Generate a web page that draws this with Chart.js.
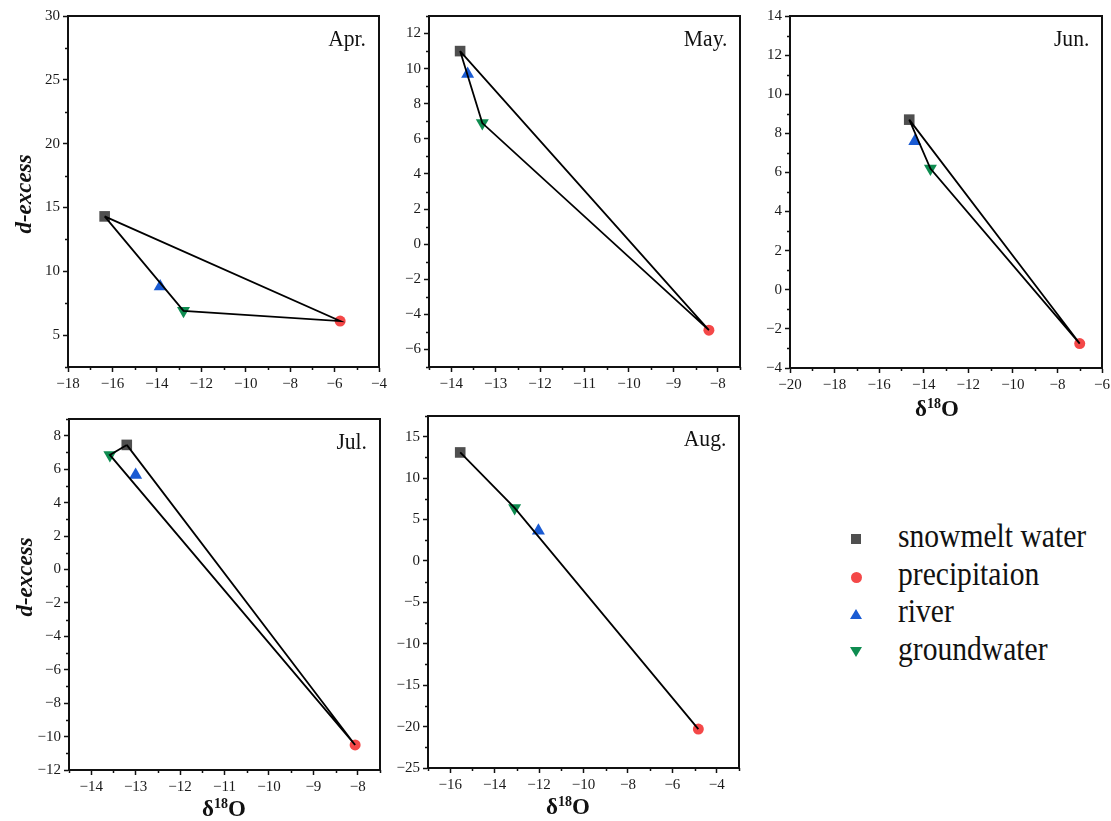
<!DOCTYPE html>
<html>
<head>
<meta charset="utf-8">
<script src="https://cdn.jsdelivr.net/npm/chart.js@4.4.1/dist/chart.umd.min.js"></script>
<style>
  body { margin: 0; background: #fff; }
  #page { position: relative; width: 1111px; height: 821px; overflow: hidden; font-family: 'Liberation Serif', 'Times New Roman', serif; color: #111; }
  #page canvas { position: absolute; }
  .month { position: absolute; font-size: 24px; line-height: 1; transform-origin: right top; transform: scaleX(0.9); }
  .ytitle { position: absolute; font-size: 23px; font-weight: bold; font-style: italic; white-space: nowrap; transform: translate(-50%, -50%) rotate(-90deg); }
  .xtitle { position: absolute; font-size: 23px; font-weight: bold; white-space: nowrap; transform: translate(-50%, -50%); }
  .xtitle sup { font-size: 14px; vertical-align: 8px; }
  .leg { position: absolute; left: 898px; font-size: 34px; line-height: 1; white-space: nowrap; transform-origin: left center; transform: translateY(-50%) scaleX(0.87); }
  .mk { position: absolute; }
</style>
</head>
<body>
<div id="page"></div>
<script>
// values (delta18O on x, d-excess on y)
const months = ['Apr.', 'May.', 'Jun.', 'Jul.', 'Aug.'];
const snowmeltX = [-16.35, -13.8, -14.65, -13.2, -15.55];
const snowmeltY = [14.3, 11.0, 8.7, 7.45, 13.1];
const precipX = [-5.75, -8.2, -7.0, -8.06, -4.83];
const precipY = [6.1, -4.9, -2.75, -10.5, -20.3];
const riverX = [-13.85, -13.63, -14.4, -13.0, -12.03];
const riverY = [8.8, 9.7, 7.6, 5.65, 3.65];
const groundX = [-12.8, -13.3, -13.7, -13.58, -13.1];
const groundY = [6.9, 6.9, 6.2, 6.85, 6.4];
// the mixing triangle is closed except in August
const closeLine = [true, true, true, true, false];

// axis ranges and tick steps
const xMin = [-18, -14.5, -20, -14.5, -17];
const xMax = [-4, -7.5, -6, -7.5, -3];
const xStep = [2, 1, 2, 1, 2];
const yMin = [2.5, -7, -4, -12, -25];
const yMax = [30, 13, 14, 9, 17.5];
const yStep = [5, 2, 2, 2, 5];

// plot area of each panel on the page: left, top, right, bottom
const boxes = [[68, 16, 379, 367], [429, 16, 740, 367], [790, 16, 1102, 368], [69, 419, 380, 770], [428, 416, 739, 768]];
const PAD_L = 60, PAD_T = 12, PAD_R = 14, PAD_B = 30;

const page = document.getElementById('page');

function majorValues(min, max, step) {
    const out = [];
    for (let k = Math.ceil(min / step - 1e-9); k * step <= max + 1e-9; k++) {
        out.push(Math.round(k * step * 1000) / 1000);
    }
    return out;
}

function minorValues(min, max, step) {
    const half = step / 2;
    const out = [];
    for (let k = Math.ceil(min / half - 1e-9); k * half <= max + 1e-9; k++) {
        if (Math.abs(k % 2) === 1) out.push(k * half);
    }
    return out;
}

// short minor ticks + the closed frame round the plot
const framePlugin = {
    id: 'frame',
    afterDraw(chart, args, opts) {
        const { ctx, chartArea: a, scales } = chart;
        ctx.save();
        ctx.strokeStyle = '#111';
        ctx.lineWidth = 1.5;
        ctx.beginPath();
        minorValues(scales.x.min, scales.x.max, opts.xStep).forEach(v => {
            const px = Math.round(scales.x.getPixelForValue(v)) + 0.5;
            ctx.moveTo(px, a.bottom);
            ctx.lineTo(px, a.bottom + 3);
        });
        minorValues(scales.y.min, scales.y.max, opts.yStep).forEach(v => {
            const py = Math.round(scales.y.getPixelForValue(v)) + 0.5;
            ctx.moveTo(a.left, py);
            ctx.lineTo(a.left - 3, py);
        });
        ctx.stroke();
        ctx.lineWidth = 2;
        ctx.strokeRect(a.left, a.top, a.right - a.left, a.bottom - a.top);
        ctx.restore();
    }
};

function tickLabel(v) {
    return String(v).replace('-', '\u2212');
}

function axis(min, max, step, vertical) {
    return {
        type: 'linear',
        min: min,
        max: max,
        bounds: 'data',
        border: { display: true, color: '#111', width: 2 },
        grid: { drawOnChartArea: false, drawTicks: true, tickLength: 5, tickColor: '#111', tickWidth: 1.5 },
        ticks: {
            autoSkip: false,
            maxRotation: 0,
            padding: 3,
            color: '#1a1a1a',
            font: { family: "'Liberation Serif', serif", size: 15 },
            callback: tickLabel
        },
        afterBuildTicks: s => {
            s.ticks = majorValues(min, max, step).map(v => ({ value: v }));
        },
        afterFit: s => {
            if (vertical) s.width = PAD_L; else s.height = PAD_B;
            s.paddingLeft = 0; s.paddingRight = 0; s.paddingTop = 0; s.paddingBottom = 0;
        }
    };
}

months.forEach((month, i) => {
    const [l, t, r, b] = boxes[i];
    const cv = document.createElement('canvas');
    cv.width = (r - l) + PAD_L + PAD_R;
    cv.height = (b - t) + PAD_T + PAD_B;
    cv.style.left = (l - PAD_L) + 'px';
    cv.style.top = (t - PAD_T) + 'px';
    page.appendChild(cv);

    const linePts = [
        { x: snowmeltX[i], y: snowmeltY[i] },
        { x: groundX[i], y: groundY[i] },
        { x: precipX[i], y: precipY[i] }
    ];
    if (closeLine[i]) linePts.push({ x: snowmeltX[i], y: snowmeltY[i] });

    new Chart(cv, {
        type: 'scatter',
        data: {
            datasets: [
                { label: 'mixing', data: linePts, showLine: true, borderColor: '#000', borderWidth: 1.8, pointRadius: 0, fill: false },
                { label: 'snowmelt water', data: [{ x: snowmeltX[i], y: snowmeltY[i] }], pointStyle: 'rect', pointRadius: 7.5, backgroundColor: '#4f4f4f', borderWidth: 0 },
                { label: 'precipitaion', data: [{ x: precipX[i], y: precipY[i] }], pointStyle: 'circle', pointRadius: 5.5, backgroundColor: '#f44848', borderWidth: 0 },
                { label: 'river', data: [{ x: riverX[i], y: riverY[i] }], pointStyle: 'triangle', pointRadius: 7.5, backgroundColor: '#1a5bd3', borderWidth: 0 },
                { label: 'groundwater', data: [{ x: groundX[i], y: groundY[i] }], pointStyle: 'triangle', rotation: 180, pointRadius: 7.5, backgroundColor: '#0e8c50', borderWidth: 0 }
            ]
        },
        options: {
            responsive: false,
            animation: false,
            layout: { padding: { top: PAD_T, right: PAD_R, left: 0, bottom: 0 } },
            plugins: {
                legend: { display: false },
                tooltip: { enabled: false },
                frame: { xStep: xStep[i], yStep: yStep[i] }
            },
            scales: {
                x: axis(xMin[i], xMax[i], xStep[i], false),
                y: axis(yMin[i], yMax[i], yStep[i], true)
            }
        },
        plugins: [framePlugin]
    });

    const m = document.createElement('div');
    m.className = 'month';
    m.textContent = month;
    m.style.right = (1111 - r + 13) + 'px';
    m.style.top = (t + 10) + 'px';
    page.appendChild(m);
});

// axis titles
function addText(cls, html, x, y) {
    const d = document.createElement('div');
    d.className = cls;
    d.innerHTML = html;
    d.style.left = x + 'px';
    d.style.top = y + 'px';
    page.appendChild(d);
}
addText('ytitle', 'd-excess', 24, 194);
addText('ytitle', 'd-excess', 25, 577);
addText('xtitle', '&delta;<sup>18</sup>O', 937, 409);
addText('xtitle', '&delta;<sup>18</sup>O', 224, 809);
addText('xtitle', '&delta;<sup>18</sup>O', 568, 807);

// legend
const legendNames = ['snowmelt water', 'precipitaion', 'river', 'groundwater'];
const legendY = [539, 577, 614, 652];
const legendMarks = [
    'left:851px;top:534px;width:10px;height:10px;background:#4f4f4f;',
    'left:851px;top:572px;width:11px;height:11px;border-radius:50%;background:#f44848;',
    'left:850px;top:609px;width:0;height:0;border-left:6px solid transparent;border-right:6px solid transparent;border-bottom:10px solid #1a5bd3;',
    'left:850px;top:647px;width:0;height:0;border-left:6px solid transparent;border-right:6px solid transparent;border-top:10px solid #0e8c50;'
];
legendNames.forEach((name, k) => {
    const mk = document.createElement('div');
    mk.className = 'mk';
    mk.style.cssText = legendMarks[k];
    page.appendChild(mk);
    const tx = document.createElement('div');
    tx.className = 'leg';
    tx.textContent = name;
    tx.style.top = (legendY[k] - 3) + 'px';
    page.appendChild(tx);
});
</script>
</body>
</html>
